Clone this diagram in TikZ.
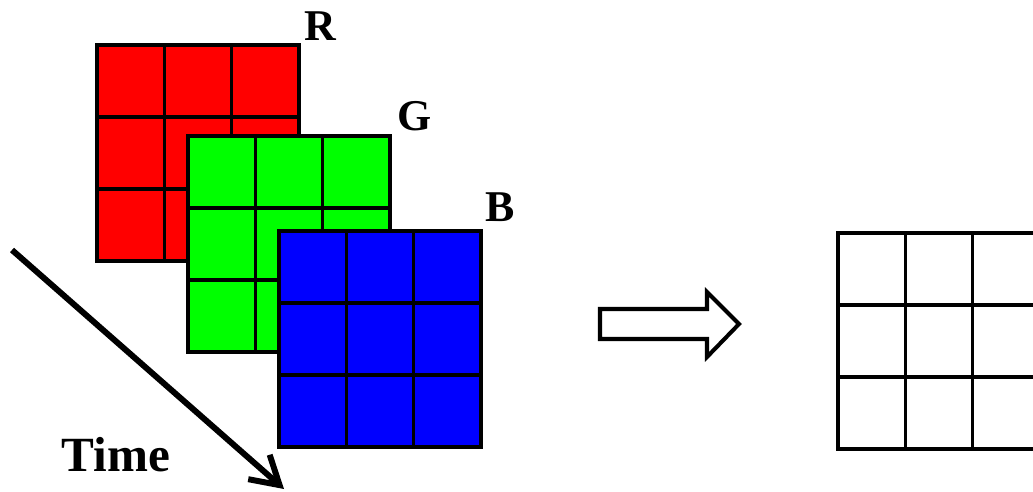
\documentclass[tikz,border=0pt]{standalone}
\usepackage{fontspec}
\setmainfont{Liberation Serif}
\usepackage{xcolor}
\usetikzlibrary{arrows.meta}

\begin{document}
\begin{tikzpicture}[
  x=0.02cm, y=-0.02cm,
  gridline/.style={line width=2pt, line cap=rect},
  lbl/.style={font=\bfseries\fontsize{25}{25}\selectfont, anchor=base, inner sep=0pt},
  timearr/.style={-{Straight Barb[length=5.5mm, width=6.5mm]}, line width=3.4pt},
  hollow/.style={draw, fill=white, line width=2.3pt, line join=miter}
]
\clip (0,0) rectangle (1033,492);
% the three colour planes and the output frame
\foreach \col/\fx/\fy in {red/97/45, green/188/136, blue/279/231, white/838/233} {
  \fill[\col] (\fx,\fy) rectangle ++(202,216);
  \foreach \i in {0,1,2,3} {
    \draw[gridline] (\fx+\i*67.33,\fy) -- ++(0,216);
    \draw[gridline] (\fx,\fy+\i*72) -- ++(202,0);
  }
}
\node[lbl] (labR) at (320,41)  {R};
\node[lbl] (labG) at (415,131) {G};
\node[lbl] (labB) at (500,222) {B};
\node[lbl, font=\bfseries\fontsize{28}{28}\selectfont] (labT) at (116,471) {Time};
% time axis
\coordinate (t0) at (12,250);
\coordinate (t1) at (284,489);
\draw[timearr] (t0) -- (t1);
% conversion arrow
\draw[hollow] (600,309) -- (707,309) -- (707,292) -- (739,324)
  -- (707,357) -- (707,339) -- (600,339) -- cycle;
\end{tikzpicture}
\end{document}
